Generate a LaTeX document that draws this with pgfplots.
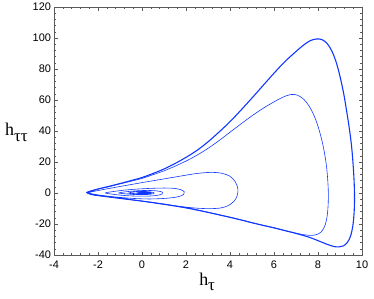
\documentclass[border=0pt]{standalone}
\usepackage{fontspec}
\setmainfont{Liberation Sans}
\newfontfamily\serif{Liberation Serif}
\usepackage{pgfplots}
\pgfplotsset{compat=1.18}
\definecolor{curve}{RGB}{15,55,255}
\definecolor{frame}{RGB}{90,90,90}
\begin{document}
\begin{tikzpicture}
\useasboundingbox (-54bp,-44bp) rectangle (320bp,255bp);
\begin{axis}[
  at={(0,0)}, anchor=south west,
  scale only axis, width=308bp, height=248bp,
  xmin=-4, xmax=10, ymin=-40, ymax=120,
  xtick={-4,-2,...,10}, ytick={-40,-20,...,120},
  minor x tick num=4, minor y tick num=4,
  xtick pos=both, ytick pos=both,
  tick align=inside,
  major tick length=3.5bp, minor tick length=2bp,
  axis line style={frame, line width=0.8pt},
  every tick/.style={frame, line width=0.5pt},
  tick label style={font=\fontsize{11}{13}\selectfont},
  xticklabel style={yshift=-2bp},
  yticklabel style={xshift=0.5bp},
  /pgf/number format/assume math mode=true,
  xlabel={{\serif\fontsize{18}{18}\selectfont h\raisebox{-0.3em}{\fontsize{17}{17}\selectfont τ}}},
  xlabel style={at={(rel axis cs:0.471,0)}, anchor=base west, yshift=-30bp, inner sep=0pt},
  ylabel={{\serif\fontsize{18}{18}\selectfont h\raisebox{-0.3em}{\fontsize{17}{17}\selectfont ττ}}},
  ylabel style={rotate=-90, at={(rel axis cs:0,0.48)}, anchor=base west, xshift=-49bp, inner sep=0pt},
]
% inner spiral and the first large loops
\addplot[curve, line width=0.6pt, smooth, tension=0.55] coordinates {
(0.08,0.02) (0.15,0.15) (0.22,0.02) (0.15,-0.18) (0.02,-0.2) (-0.06,0) (0.0,0.2)
(0.1,0.05) (0.2,0.25) (0.3,0.05) (0.22,-0.3) (0.02,-0.38) (-0.15,-0.15) (-0.2,0.15) (-0.05,0.45) (0.15,0.55) (0.35,0.4) (0.42,0) (0.32,-0.5) (0.05,-0.65) (-0.28,-0.45)
(-0.6,0) (-0.4,0.6) (-0.1,0.95) (0.2,0.95) (0.45,0.55) (0.55,0) (0.45,-0.65) (0.15,-1.05) (-0.25,-1.05) (-0.7,-0.6)
(-1.05,0) (-0.7,0.85) (-0.2,1.45) (0.3,1.65) (0.7,1.3) (0.93,0.5) (0.92,-0.6) (0.7,-1.5) (0.3,-2.0) (-0.3,-2.0) (-0.9,-1.5) (-1.35,-0.75)
(-1.66,0.05) (-1.3,0.95) (-0.8,1.85) (-0.2,2.55) (0.5,3.05) (1.0,3.2) (1.45,3.0) (1.75,2.2) (1.92,0.8) (1.9,-0.8) (1.72,-2.1) (1.4,-3.0) (0.9,-3.6) (0.3,-3.85) (-0.4,-3.5) (-1.1,-2.7) (-1.7,-1.8) (-2.15,-0.85)
(-2.43,0.15) (-2.1,1.3) (-1.5,2.9) (-1,4.2) (-0.5,5.45) (0,6.7) (0.5,7.9) (1,9.1) (1.5,10.3) (2,11.5) (2.5,12.6) (3.1,13.3) (3.6,12.8) (4.0,10.8) (4.25,7) (4.36,2.5) (4.32,-2) (4.17,-5.5) (3.92,-8.1) (3.6,-9.6) (3.1,-10.1) (2.5,-9.8) (2,-9.1) (1.5,-8.2) (1,-7.1) (0.5,-6.1) (0,-5.15) (-0.5,-4.25) (-1,-3.35) (-1.5,-2.5) (-2,-1.6) (-2.3,-0.9)
(-2.52,0.3) (-2.3,1.3) (-2,2.5) (-1.5,4.1) (-1,5.9) (-0.5,7.6) (0,9.4) (0.5,11.8) (1,14.3) (1.5,17.3) (2,20.6) (2.5,24.4) (3,28.8) (3.5,33.8) (4,39.2) (4.5,44.6) (5,49.8) (5.5,54.6) (6,58.8) (6.4,61.8) (6.75,63.5) (7.05,63.2) (7.35,60.5) (7.6,56) (7.82,50) (8.0,43) (8.15,35.5) (8.28,27) (8.38,18) (8.44,9) (8.47,0) (8.46,-8) (8.42,-14.5) (8.34,-20) (8.2,-24.2) (8.0,-26.5) (7.75,-27.3) (7.45,-27.1) (7.1,-26.2) (6.5,-24.2) (6,-22.4) (5.5,-20.8) (5,-19.1) (4.5,-17.3) (4,-15.6) (3.5,-14) (3,-12.4) (2.5,-10.9) (2,-9.5) (1.5,-8.3) (1,-7.2) (0.5,-6.2) (0,-5.2) (-0.5,-4.3) (-1,-3.4) (-1.5,-2.5) (-2,-1.6) (-2.3,-0.9) (-2.52,0.3)
};
% outer limit cycle
\addplot[curve, line width=1.1pt, smooth, tension=0.55] coordinates {
(-2.52,0.3) (-2.3,1.4) (-2,2.6) (-1.5,4.3) (-1,6.1) (-0.5,8) (0,10) (0.5,12.6) (1,15.5) (1.5,19) (2,23) (2.5,27.5) (3,33) (3.5,39.3) (4,46) (4.5,53.5) (5,61.3) (5.5,69.3) (6,77.3) (6.5,84.8) (7,91.3) (7.35,95.5) (7.65,98.3) (7.95,99.4) (8.2,98.8) (8.43,96.2) (8.65,91) (8.85,83.3) (9.02,74) (9.17,64) (9.3,53) (9.42,42) (9.52,31) (9.59,19.5) (9.64,8) (9.66,-3) (9.64,-13) (9.58,-21.5) (9.48,-27.8) (9.33,-32) (9.14,-34.2) (8.94,-34.8) (8.72,-34.5) (8.45,-33.3) (8.15,-31.6) (7.8,-29.6) (7.5,-28.1) (7,-26.1) (6.5,-24.3) (6,-22.5) (5.5,-20.9) (5,-19.2) (4.5,-17.4) (4,-15.7) (3.5,-14.1) (3,-12.5) (2.5,-11) (2,-9.6) (1.5,-8.4) (1,-7.3) (0.5,-6.25) (0,-5.25) (-0.5,-4.35) (-1,-3.45) (-1.5,-2.55) (-2,-1.65) (-2.3,-0.95) (-2.52,0.3)
};
\end{axis}
\end{tikzpicture}
\end{document}
